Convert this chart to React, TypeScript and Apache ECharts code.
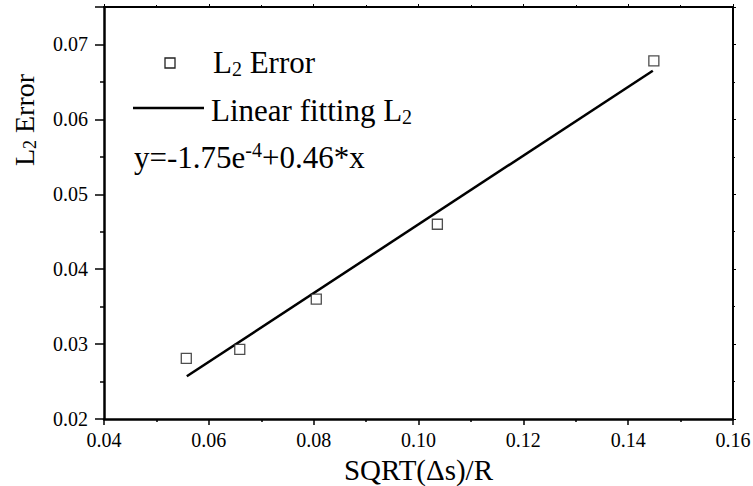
import React, { useEffect, useRef } from "react";
import * as echarts from "echarts";

const xValues = [0.0557, 0.0659, 0.0805, 0.1036, 0.1449];
const l2Error = [0.0281, 0.0293, 0.036, 0.046, 0.0678];
const fitX = [0.0558, 0.1447];
const fitY = [0.0257, 0.0665];

const xTitle = "SQRT(Δs)/R";
const seriesNames = ["L2 Error", "Linear fitting L2"];

const FONT = "'Liberation Serif', 'Times New Roman', serif";

export default function App() {
  const ref = useRef<HTMLDivElement>(null);
  useEffect(() => {
    if (!ref.current) return;
    const chart = echarts.init(ref.current, undefined, { renderer: "svg" });
    const main = { fontFamily: FONT, fontSize: 31, color: "#000", lineHeight: 39 };
    const sub = { fontFamily: FONT, fontSize: 20, color: "#000", lineHeight: 20, padding: [13, 0, 0, 0] };
    const sup = { fontFamily: FONT, fontSize: 20, color: "#000", lineHeight: 20, padding: [0, 0, 15, 0] };
    const axisBase = {
      axisLine: { show: true, lineStyle: { color: "#000", width: 2.5 } },
      splitLine: { show: false },
    };
    const option: any = {
      animation: false,
      backgroundColor: "#fff",
      grid: { left: 104, right: 20, top: 7, bottom: 67, containLabel: false, outerBoundsMode: "none" },
      xAxis: [
        {
          ...axisBase,
          type: "value",
          min: 0.04,
          max: 0.16,
          interval: 0.02,
          position: "bottom",
          name: xTitle,
          nameLocation: "middle",
          nameGap: 30,
          nameTextStyle: { fontFamily: FONT, fontSize: 29, color: "#000", lineHeight: 30 },
          axisTick: { show: true, inside: false, length: 6, lineStyle: { color: "#000", width: 1.5 } },
          minorTick: { show: true, splitNumber: 2, length: 3, lineStyle: { color: "#000", width: 1.5 } },
          axisLabel: {
            margin: 11,
            fontFamily: FONT,
            fontSize: 20,
            color: "#000",
            formatter: (v: number) => v.toFixed(2),
          },
        },
        {
          type: "value",
          min: 0.04,
          max: 0.16,
          interval: 0.02,
          position: "top",
          axisLine: { show: true, onZero: false, lineStyle: { color: "#000", width: 2 } },
          splitLine: { show: false },
          axisTick: { show: true, length: 3, lineStyle: { color: "#000", width: 1 } },
          minorTick: { show: true, splitNumber: 2, length: 2, lineStyle: { color: "#000", width: 1 } },
          axisLabel: { show: false },
        },
      ],
      yAxis: [
        {
          ...axisBase,
          type: "value",
          min: 0.02,
          max: 0.075,
          interval: 0.01,
          position: "left",
          axisTick: { show: true, length: 9, lineStyle: { color: "#000", width: 1.5 } },
          minorTick: { show: true, splitNumber: 2, length: 4, lineStyle: { color: "#000", width: 1.5 } },
          axisLabel: {
            margin: 16,
            fontFamily: FONT,
            fontSize: 20,
            color: "#000",
            showMaxLabel: false,
            formatter: (v: number) => (Math.abs(v - 0.075) < 1e-9 ? "" : v.toFixed(2)),
          },
        },
        {
          type: "value",
          min: 0.02,
          max: 0.075,
          interval: 0.01,
          position: "right",
          axisLine: { show: true, onZero: false, lineStyle: { color: "#000", width: 2 } },
          splitLine: { show: false },
          axisTick: { show: true, length: 3, lineStyle: { color: "#000", width: 1 } },
          minorTick: { show: true, splitNumber: 2, length: 2, lineStyle: { color: "#000", width: 1 } },
          axisLabel: { show: false },
        },
      ],
      series: [
        {
          name: seriesNames[1],
          type: "line",
          xAxisIndex: 0,
          yAxisIndex: 0,
          data: fitX.map((x, i) => [x, fitY[i]]),
          showSymbol: false,
          lineStyle: { color: "#000", width: 2.5 },
          z: 2,
        },
        {
          name: seriesNames[0],
          type: "scatter",
          xAxisIndex: 0,
          yAxisIndex: 0,
          data: xValues.map((x, i) => [x, l2Error[i]]),
          symbol: "rect",
          symbolSize: 10,
          itemStyle: { color: "#fff", borderColor: "#222", borderWidth: 1.3 },
          z: 3,
        },
      ],
      graphic: [
        {
          type: "text",
          x: 24,
          y: 120,
          rotation: Math.PI / 2,
          style: {
            text: "{a|L}{s|2}{a| Error}",
            rich: {
              a: { fontFamily: FONT, fontSize: 28, color: "#000", lineHeight: 34 },
              s: { fontFamily: FONT, fontSize: 18, color: "#000", lineHeight: 18, padding: [12, 0, 0, 0] },
            },
            align: "center",
            verticalAlign: "middle",
            textAlign: "center",
            textVerticalAlign: "middle",
          },
        },
        {
          type: "rect",
          shape: { x: 165, y: 58, width: 10, height: 10 },
          style: { fill: "#fff", stroke: "#222", lineWidth: 1.3 },
        },
        {
          type: "text",
          x: 213,
          y: 62,
          style: {
            text: "{a|L}{s|2}{a| Error}",
            rich: { a: main, s: sub },
            align: "left",
            verticalAlign: "middle",
            textAlign: "left",
            textVerticalAlign: "middle",
          },
        },
        {
          type: "line",
          shape: { x1: 133, y1: 108, x2: 204, y2: 108 },
          style: { stroke: "#000", lineWidth: 2.5 },
        },
        {
          type: "text",
          x: 211,
          y: 110,
          style: {
            text: "{a|Linear fitting L}{s|2}",
            rich: { a: main, s: sub },
            align: "left",
            verticalAlign: "middle",
            textAlign: "left",
            textVerticalAlign: "middle",
          },
        },
        {
          type: "text",
          x: 134,
          y: 157,
          style: {
            text: "{a|y=-1.75e}{p|-4}{a|+0.46*x}",
            rich: { a: main, p: sup },
            align: "left",
            verticalAlign: "middle",
            textAlign: "left",
            textVerticalAlign: "middle",
          },
        },
      ],
    };
    chart.setOption(option);
    return () => chart.dispose();
  }, []);
  return (
    <div
      ref={ref}
      style={{ position: "absolute", left: 0, top: 0, width: 753, height: 486, background: "#fff" }}
    />
  );
}
